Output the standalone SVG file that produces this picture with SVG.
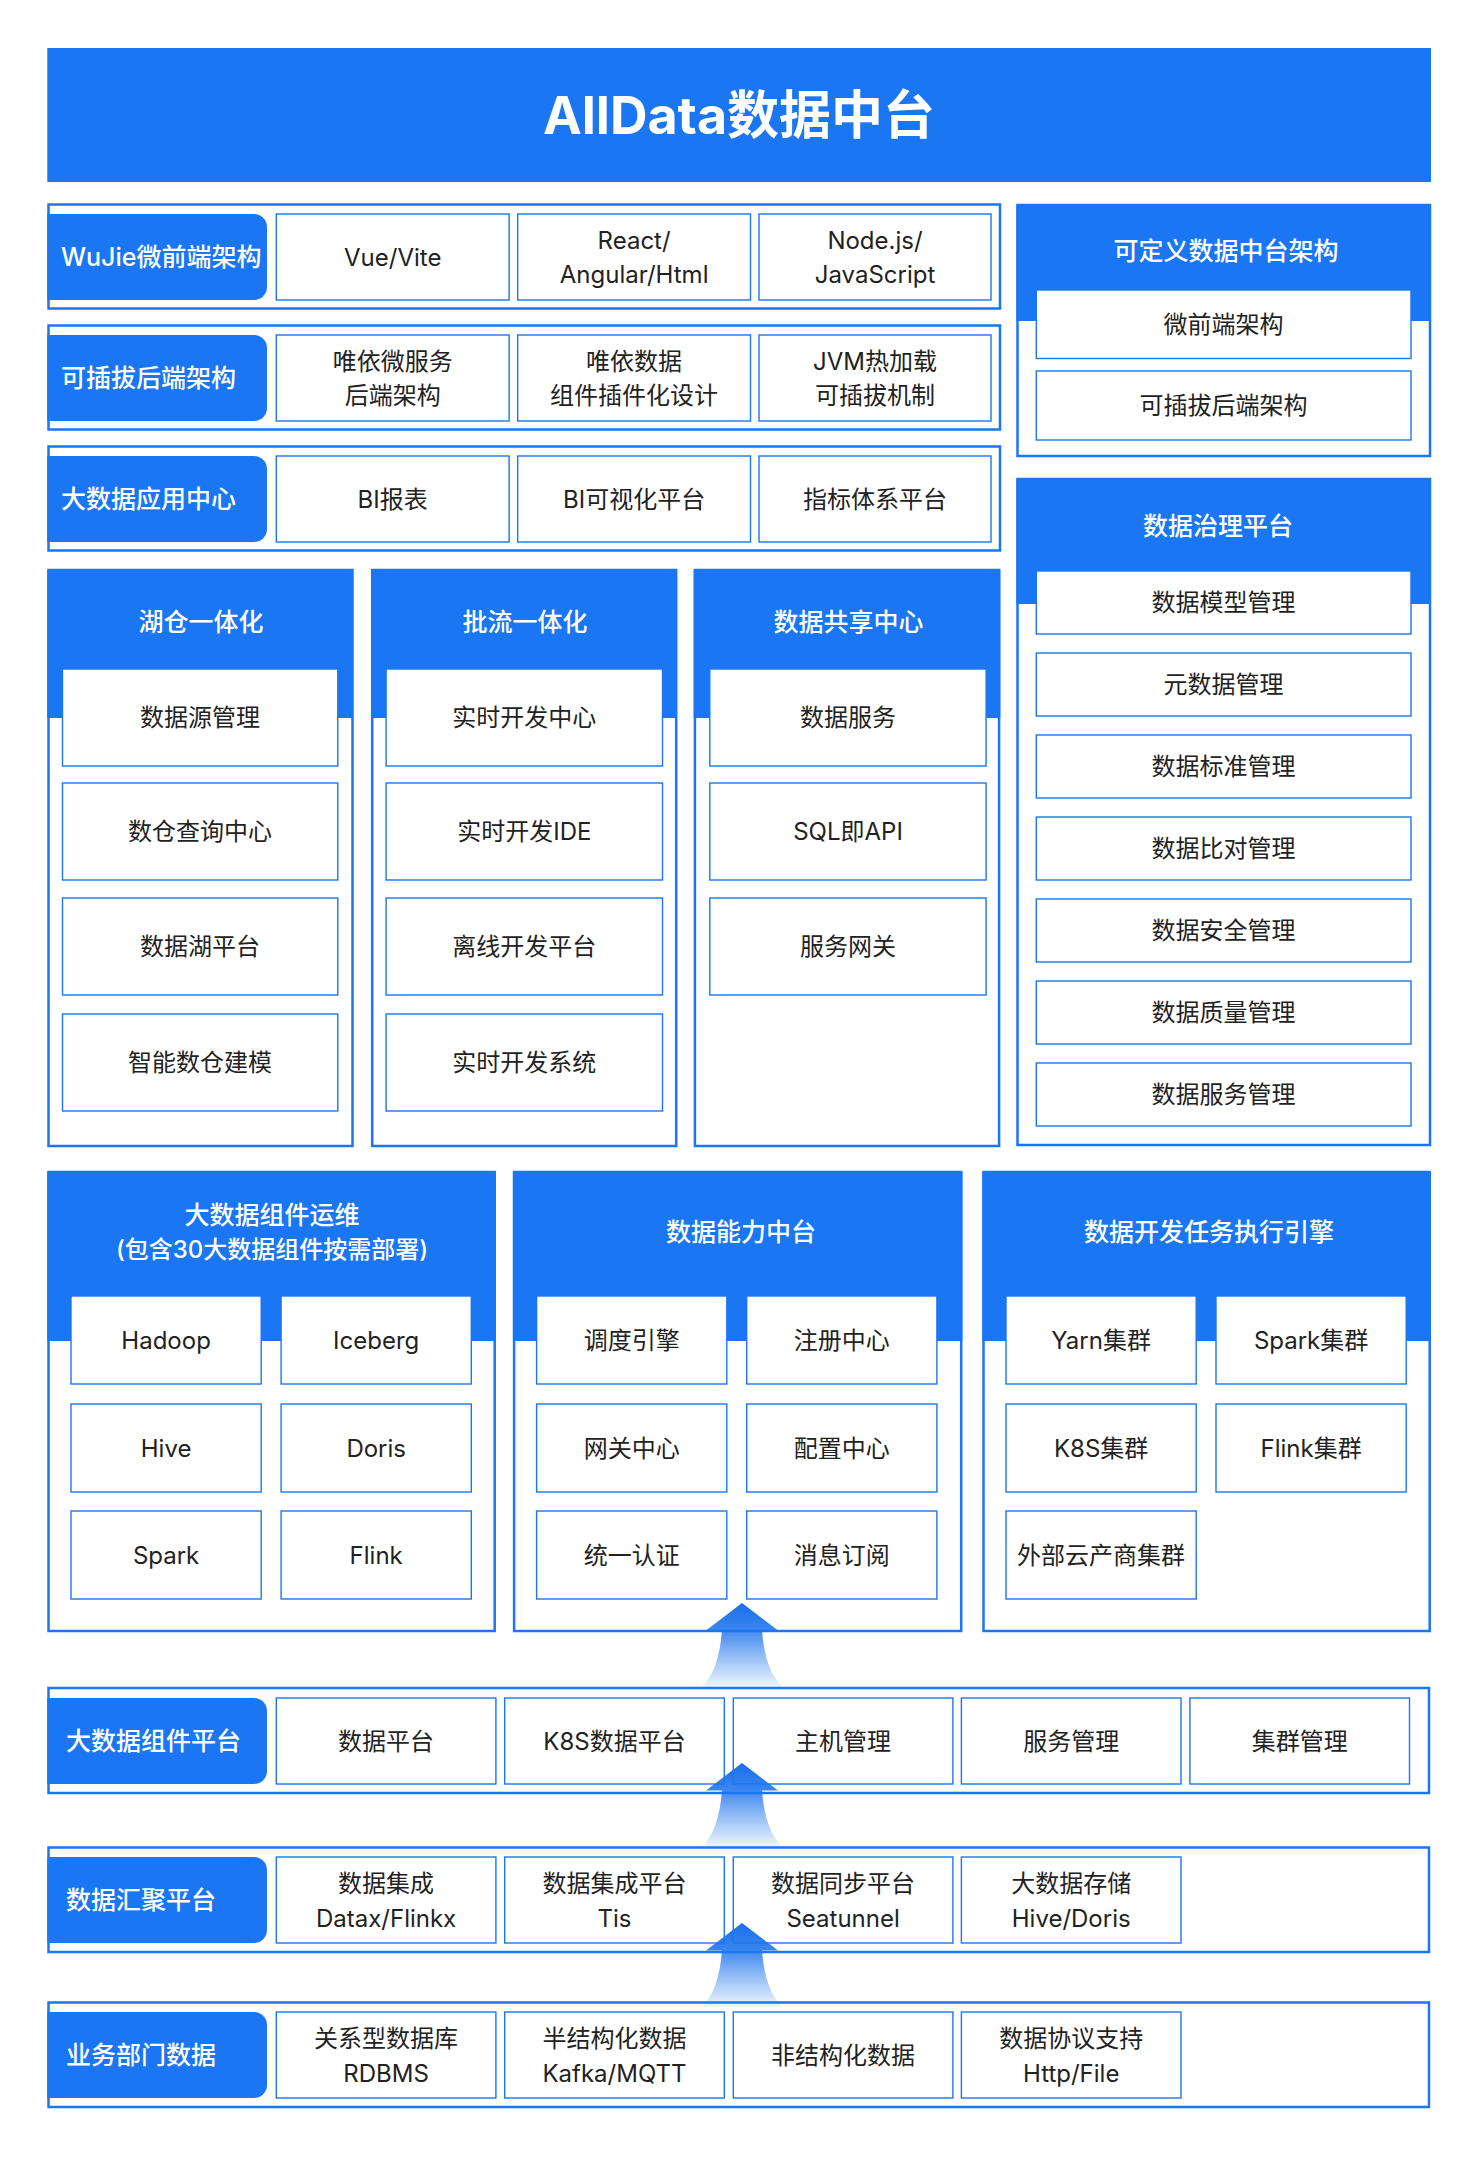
<svg xmlns="http://www.w3.org/2000/svg" width="1484" height="2163" viewBox="0 0 1484 2163">
<defs>
<style>
.bf{fill:#1a76f2}
.frame{fill:none;stroke:#1a76f2;stroke-width:2.5}
.cell{fill:#fff;stroke:#1a76f2;stroke-width:1.4}
.celln{fill:none;stroke:#1a76f2;stroke-width:1.4}
text{font-family:Inter,"Noto Sans CJK SC",sans-serif;dominant-baseline:central}
.t{font-size:24px;fill:#222;text-anchor:middle}
.h{font-size:25px;fill:#fff;font-weight:500;text-anchor:middle}
.tab{font-size:25px;fill:#fff;font-weight:500;text-anchor:start}
.title{font-size:52px;fill:#fff;font-weight:700;text-anchor:middle}
</style>
<linearGradient id="gHead" x1="0" y1="0" x2="0" y2="1">
<stop offset="0" stop-color="#1a6fe9"/>
<stop offset="1" stop-color="#3a86f0"/>
</linearGradient>
<linearGradient id="gShaft" x1="0" y1="0" x2="0" y2="1">
<stop offset="0" stop-color="#4089f0"/>
<stop offset="0.55" stop-color="#a3c6f7"/>
<stop offset="1" stop-color="#f0f6fe"/>
</linearGradient>
<g id="arrow">
<path d="M-20,27 L20,27 C22,55 29,74 41,84 L-41,84 C-29,74 -22,55 -20,27 Z" fill="url(#gShaft)"/>
<path d="M0,0 L36,27.5 L-36,27.5 Z" fill="url(#gHead)"/>
</g>
</defs>
<rect x="0" y="0" width="1484" height="2163" fill="#fff"/>

<g id="connectors">
<use href="#arrow" x="742" y="1603"/>
<use href="#arrow" x="742" y="1763"/>
<use href="#arrow" x="742" y="1923"/>
</g>

<g id="title">
<rect class="bf" x="47.3" y="48" width="1383.7" height="134"/>
<text class="title" x="739" y="115">AllData数据中台</text>
</g>

<g id="row-wujie">
<rect class="frame" x="48.5" y="204.5" width="951.5" height="104"/>
<path class="bf" d="M47.3,214 H254 A13,13 0 0 1 267,227 V287 A13,13 0 0 1 254,300 H47.3 Z"/>
<text class="tab" x="61" y="257">WuJie微前端架构</text>
<rect class="cell" x="276.3" y="214" width="232.8" height="86"/>
<text class="t" x="392.7" y="257">Vue/Vite</text>
<rect class="cell" x="517.7" y="214" width="232.8" height="86"/>
<text class="t" x="634.1" y="240">React/</text>
<text class="t" x="634.1" y="274">Angular/Html</text>
<rect class="cell" x="759" y="214" width="232" height="86"/>
<text class="t" x="875" y="240">Node.js/</text>
<text class="t" x="875" y="274">JavaScript</text>
</g>

<g id="row-backend">
<rect class="frame" x="48.5" y="325.5" width="951.5" height="104"/>
<path class="bf" d="M47.3,335 H254 A13,13 0 0 1 267,348 V408 A13,13 0 0 1 254,421 H47.3 Z"/>
<text class="tab" x="61" y="378">可插拔后端架构</text>
<rect class="cell" x="276.3" y="335" width="232.8" height="86"/>
<text class="t" x="392.7" y="361">唯依微服务</text>
<text class="t" x="392.7" y="395">后端架构</text>
<rect class="cell" x="517.7" y="335" width="232.8" height="86"/>
<text class="t" x="634.1" y="361">唯依数据</text>
<text class="t" x="634.1" y="395">组件插件化设计</text>
<rect class="cell" x="759" y="335" width="232" height="86"/>
<text class="t" x="875" y="361">JVM热加载</text>
<text class="t" x="875" y="395">可插拔机制</text>
</g>

<g id="row-app">
<rect class="frame" x="48.5" y="446.5" width="951.5" height="104"/>
<path class="bf" d="M47.3,456 H254 A13,13 0 0 1 267,469 V529 A13,13 0 0 1 254,542 H47.3 Z"/>
<text class="tab" x="61" y="499">大数据应用中心</text>
<rect class="cell" x="276.3" y="456" width="232.8" height="86"/>
<text class="t" x="392.7" y="499">BI报表</text>
<rect class="cell" x="517.7" y="456" width="232.8" height="86"/>
<text class="t" x="634.1" y="499">BI可视化平台</text>
<rect class="cell" x="759" y="456" width="232" height="86"/>
<text class="t" x="875" y="499">指标体系平台</text>
</g>

<g id="panel-custom">
<rect class="bf" x="1016.4" y="205" width="414.6" height="116"/>
<rect class="frame" x="1017.5" y="205" width="412.5" height="251"/>
<text class="h" x="1226" y="251">可定义数据中台架构</text>
<rect class="cell" x="1036.3" y="290" width="374.7" height="68.5"/>
<text class="t" x="1223.6" y="324">微前端架构</text>
<rect class="cell" x="1036.3" y="371" width="374.7" height="69"/>
<text class="t" x="1223.6" y="405.5">可插拔后端架构</text>
</g>

<g id="panel-governance">
<rect class="bf" x="1016.4" y="479" width="414.6" height="125"/>
<rect class="frame" x="1017.5" y="479" width="412.5" height="666"/>
<text class="h" x="1218" y="525.5">数据治理平台</text>
<rect class="cell" x="1036.3" y="571" width="374.7" height="63"/>
<text class="t" x="1223.6" y="602.5">数据模型管理</text>
<rect class="cell" x="1036.3" y="653" width="374.7" height="63"/>
<text class="t" x="1223.6" y="684.5">元数据管理</text>
<rect class="cell" x="1036.3" y="735" width="374.7" height="63"/>
<text class="t" x="1223.6" y="766.5">数据标准管理</text>
<rect class="cell" x="1036.3" y="817" width="374.7" height="63"/>
<text class="t" x="1223.6" y="848.5">数据比对管理</text>
<rect class="cell" x="1036.3" y="899" width="374.7" height="63"/>
<text class="t" x="1223.6" y="930.5">数据安全管理</text>
<rect class="cell" x="1036.3" y="981" width="374.7" height="63"/>
<text class="t" x="1223.6" y="1012.5">数据质量管理</text>
<rect class="cell" x="1036.3" y="1063" width="374.7" height="63"/>
<text class="t" x="1223.6" y="1094.5">数据服务管理</text>
</g>

<g id="panel-lakehouse">
<rect class="bf" x="47.3" y="570" width="305.7" height="148"/>
<rect class="frame" x="48.5" y="570" width="304" height="576"/>
<text class="h" x="201" y="622">湖仓一体化</text>
<rect class="cell" x="62.5" y="669" width="275.3" height="97"/>
<text class="t" x="200.1" y="717.5">数据源管理</text>
<rect class="cell" x="62.5" y="783" width="275.3" height="97"/>
<text class="t" x="200.1" y="831.5">数仓查询中心</text>
<rect class="cell" x="62.5" y="898" width="275.3" height="97"/>
<text class="t" x="200.1" y="946.5">数据湖平台</text>
<rect class="cell" x="62.5" y="1014" width="275.3" height="97"/>
<text class="t" x="200.1" y="1062.5">智能数仓建模</text>
</g>

<g id="panel-streambatch">
<rect class="bf" x="371" y="570" width="305.7" height="148"/>
<rect class="frame" x="372.2" y="570" width="304" height="576"/>
<text class="h" x="525" y="622">批流一体化</text>
<rect class="cell" x="386.1" y="669" width="276.4" height="97"/>
<text class="t" x="524.3" y="717.5">实时开发中心</text>
<rect class="cell" x="386.1" y="783" width="276.4" height="97"/>
<text class="t" x="524.3" y="831.5">实时开发IDE</text>
<rect class="cell" x="386.1" y="898" width="276.4" height="97"/>
<text class="t" x="524.3" y="946.5">离线开发平台</text>
<rect class="cell" x="386.1" y="1014" width="276.4" height="97"/>
<text class="t" x="524.3" y="1062.5">实时开发系统</text>
</g>

<g id="panel-sharing">
<rect class="bf" x="693.7" y="570" width="306.6" height="148"/>
<rect class="frame" x="694.9" y="570" width="304.2" height="576"/>
<text class="h" x="848.5" y="622">数据共享中心</text>
<rect class="cell" x="709.8" y="669" width="276.3" height="97"/>
<text class="t" x="848" y="717.5">数据服务</text>
<rect class="cell" x="709.8" y="783" width="276.3" height="97"/>
<text class="t" x="848" y="831.5">SQL即API</text>
<rect class="cell" x="709.8" y="898" width="276.3" height="97"/>
<text class="t" x="848" y="946.5">服务网关</text>
</g>

<g id="panel-ops">
<rect class="bf" x="47.3" y="1172" width="448.6" height="169"/>
<rect class="frame" x="48.5" y="1172" width="446.2" height="459"/>
<text class="h" x="272" y="1215">大数据组件运维</text>
<text class="h" x="272" y="1249" style="font-size:24px">(包含30大数据组件按需部署)</text>
<rect class="cell" x="71" y="1296" width="190.2" height="88"/>
<text class="t" x="166.1" y="1340">Hadoop</text>
<rect class="cell" x="281.1" y="1296" width="190.2" height="88"/>
<text class="t" x="376.2" y="1340">Iceberg</text>
<rect class="cell" x="71" y="1404" width="190.2" height="88"/>
<text class="t" x="166.1" y="1448">Hive</text>
<rect class="cell" x="281.1" y="1404" width="190.2" height="88"/>
<text class="t" x="376.2" y="1448">Doris</text>
<rect class="cell" x="71" y="1511" width="190.2" height="88"/>
<text class="t" x="166.1" y="1555">Spark</text>
<rect class="cell" x="281.1" y="1511" width="190.2" height="88"/>
<text class="t" x="376.2" y="1555">Flink</text>
</g>

<g id="panel-capability">
<rect class="bf" x="512.9" y="1172" width="449.5" height="169"/>
<rect class="frame" x="514.1" y="1172" width="447.1" height="459"/>
<text class="h" x="741" y="1232">数据能力中台</text>
<rect class="cell" x="536.6" y="1296" width="190.2" height="88"/>
<text class="t" x="631.7" y="1340">调度引擎</text>
<rect class="cell" x="746.7" y="1296" width="190.2" height="88"/>
<text class="t" x="841.8" y="1340">注册中心</text>
<rect class="cell" x="536.6" y="1404" width="190.2" height="88"/>
<text class="t" x="631.7" y="1448">网关中心</text>
<rect class="cell" x="746.7" y="1404" width="190.2" height="88"/>
<text class="t" x="841.8" y="1448">配置中心</text>
<rect class="cell" x="536.6" y="1511" width="190.2" height="88"/>
<text class="t" x="631.7" y="1555">统一认证</text>
<rect class="cell" x="746.7" y="1511" width="190.2" height="88"/>
<text class="t" x="841.8" y="1555">消息订阅</text>
</g>

<g id="panel-engine">
<rect class="bf" x="982.3" y="1172" width="448.6" height="169"/>
<rect class="frame" x="983.5" y="1172" width="446.2" height="459"/>
<text class="h" x="1209" y="1232">数据开发任务执行引擎</text>
<rect class="cell" x="1006" y="1296" width="190.2" height="88"/>
<text class="t" x="1101.1" y="1340">Yarn集群</text>
<rect class="cell" x="1216" y="1296" width="190.2" height="88"/>
<text class="t" x="1311.1" y="1340">Spark集群</text>
<rect class="cell" x="1006" y="1404" width="190.2" height="88"/>
<text class="t" x="1101.1" y="1448">K8S集群</text>
<rect class="cell" x="1216" y="1404" width="190.2" height="88"/>
<text class="t" x="1311.1" y="1448">Flink集群</text>
<rect class="cell" x="1006" y="1511" width="190.2" height="88"/>
<text class="t" x="1101.1" y="1555">外部云产商集群</text>
</g>

<g id="row-component-platform">
<rect class="frame" x="48.5" y="1688" width="1380.5" height="105"/>
<path class="bf" d="M47.3,1698 H254 A13,13 0 0 1 267,1711 V1771 A13,13 0 0 1 254,1784 H47.3 Z"/>
<text class="tab" x="66" y="1741">大数据组件平台</text>
<rect class="celln" x="276.3" y="1698" width="219.6" height="86"/>
<text class="t" x="386.1" y="1741">数据平台</text>
<rect class="celln" x="504.7" y="1698" width="219.6" height="86"/>
<text class="t" x="614.5" y="1741">K8S数据平台</text>
<rect class="celln" x="733.3" y="1698" width="219.6" height="86"/>
<text class="t" x="843.1" y="1741">主机管理</text>
<rect class="celln" x="961.4" y="1698" width="219.6" height="86"/>
<text class="t" x="1071.2" y="1741">服务管理</text>
<rect class="celln" x="1189.9" y="1698" width="219.6" height="86"/>
<text class="t" x="1299.7" y="1741">集群管理</text>
</g>

<g id="row-aggregation">
<rect class="frame" x="48.5" y="1847.5" width="1380.5" height="104.5"/>
<path class="bf" d="M47.3,1857 H254 A13,13 0 0 1 267,1870 V1930 A13,13 0 0 1 254,1943 H47.3 Z"/>
<text class="tab" x="66" y="1900">数据汇聚平台</text>
<rect class="celln" x="276.3" y="1857" width="219.6" height="86"/>
<text class="t" x="386.1" y="1883">数据集成</text>
<text class="t" x="386.1" y="1918">Datax/Flinkx</text>
<rect class="celln" x="504.7" y="1857" width="219.6" height="86"/>
<text class="t" x="614.5" y="1883">数据集成平台</text>
<text class="t" x="614.5" y="1918">Tis</text>
<rect class="celln" x="733.3" y="1857" width="219.6" height="86"/>
<text class="t" x="843.1" y="1883">数据同步平台</text>
<text class="t" x="843.1" y="1918">Seatunnel</text>
<rect class="celln" x="961.4" y="1857" width="219.6" height="86"/>
<text class="t" x="1071.2" y="1883">大数据存储</text>
<text class="t" x="1071.2" y="1918">Hive/Doris</text>
</g>

<g id="row-business">
<rect class="frame" x="48.5" y="2002.5" width="1380.5" height="104.5"/>
<path class="bf" d="M47.3,2012 H254 A13,13 0 0 1 267,2025 V2085 A13,13 0 0 1 254,2098 H47.3 Z"/>
<text class="tab" x="66" y="2055">业务部门数据</text>
<rect class="celln" x="276.3" y="2012" width="219.6" height="86"/>
<text class="t" x="386.1" y="2038">关系型数据库</text>
<text class="t" x="386.1" y="2073">RDBMS</text>
<rect class="celln" x="504.7" y="2012" width="219.6" height="86"/>
<text class="t" x="614.5" y="2038">半结构化数据</text>
<text class="t" x="614.5" y="2073">Kafka/MQTT</text>
<rect class="celln" x="733.3" y="2012" width="219.6" height="86"/>
<text class="t" x="843.1" y="2055">非结构化数据</text>
<rect class="celln" x="961.4" y="2012" width="219.6" height="86"/>
<text class="t" x="1071.2" y="2038">数据协议支持</text>
<text class="t" x="1071.2" y="2073">Http/File</text>
</g>
</svg>
